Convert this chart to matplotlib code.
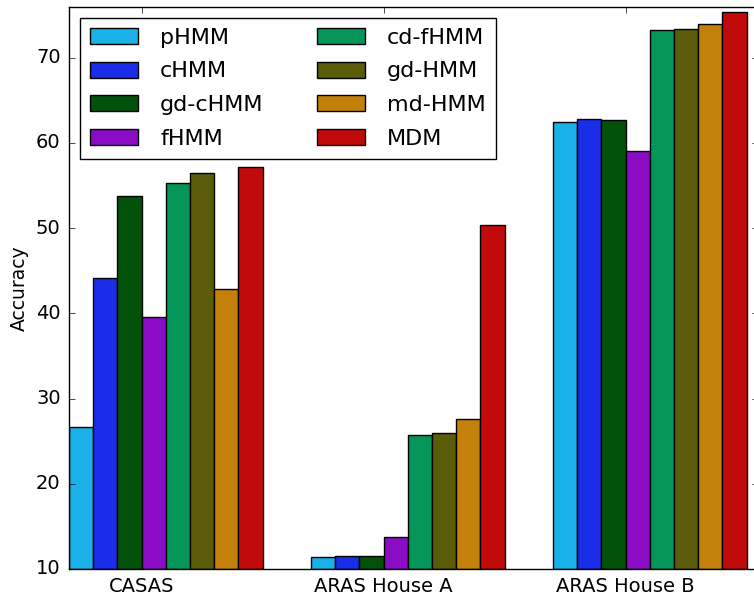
import numpy as np
import matplotlib
matplotlib.use("Agg")
import matplotlib.pyplot as plt

plt.style.use('classic')

datasets = ['CASAS', 'ARAS House A', 'ARAS House B']
models = ['pHMM', 'cHMM', 'gd-cHMM', 'fHMM', 'cd-fHMM', 'gd-HMM', 'md-HMM', 'MDM']
colors = ['#1ab0e8', '#1a2de8', '#035209', '#8a0dc5',
          '#069558', '#5b5c09', '#c3800a', '#c10a0a']

# accuracy per model, one value per dataset (CASAS, ARAS A, ARAS B)
pHMM = [26.7, 11.4, 62.45]
cHMM = [44.2, 11.5, 62.8]
gd_cHMM = [53.8, 11.5, 62.7]
fHMM = [39.55, 13.8, 59.0]
cd_fHMM = [55.3, 25.75, 73.2]
gd_HMM = [56.5, 25.9, 73.4]
md_HMM = [42.85, 27.6, 73.9]
MDM = [57.2, 50.4, 75.35]
scores = [pHMM, cHMM, gd_cHMM, fHMM, cd_fHMM, gd_HMM, md_HMM, MDM]

ind = np.arange(len(datasets))
width = 0.1

fig = plt.figure(figsize=(7.54, 5.96), dpi=100, facecolor='white')
ax = fig.add_axes([69 / 754, 27 / 596, 689 / 754, 562.5 / 596])

for i, (name, vals) in enumerate(zip(models, scores)):
    ax.bar(ind + i * width, np.array(vals) - 10, width, bottom=10,
           color=colors[i], edgecolor='black', linewidth=1.0,
           align='edge', label=name)

ax.set_xlim(0, 2.847)
ax.set_ylim(10, 76)
ax.set_yticks(range(10, 71, 10))
ax.set_xticks(ind + 3 * width)
ax.set_xticklabels(datasets)
ax.tick_params(labelsize=14, pad=6)
ax.set_ylabel('Accuracy', fontsize=13.5)

ax.legend(loc='upper left', ncol=2, fontsize=16, labelspacing=0.62,
          handlelength=2.15, handleheight=0.72, handletextpad=1.0,
          columnspacing=2.4, borderaxespad=0.5, borderpad=0.45)

plt.savefig('out.png', dpi=100, facecolor='white')
